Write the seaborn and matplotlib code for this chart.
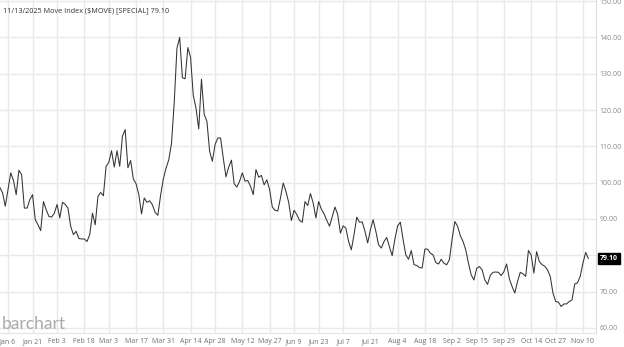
import numpy as np
import pandas as pd
import matplotlib
matplotlib.use("Agg")
import matplotlib.pyplot as plt
import matplotlib.transforms as mtransforms
import seaborn as sns

# ---------------- data ----------------
holidays = ["2025-01-01", "2025-01-09", "2025-01-20", "2025-02-17", "2025-04-18",
            "2025-05-26", "2025-06-19", "2025-07-04", "2025-09-01", "2025-10-13",
            "2025-11-11"]
start_date = "2024-12-31"
end_date = "2025-11-13"

move_jan_feb = [98.7, 97.2, 93.5, 98.1, 102.7, 100.6, 96.7, 103.4, 102.2, 93.0,
                93.0, 95.3, 96.7, 89.8, 88.4, 86.8, 94.8, 92.6, 90.7, 90.5,
                91.6, 94.0, 90.3, 94.6, 94.0, 93.0, 88.0, 85.7, 86.6, 84.6,
                84.5, 84.5, 83.8, 85.7, 91.6, 88.4, 96.2, 97.3, 96.4]
move_mar = [104.5, 105.6, 108.8, 104.3, 108.8, 104.5, 112.8, 114.6, 104.1, 106.1,
            101.0, 99.7, 96.7, 91.4, 95.8, 94.6, 95.0, 93.9, 91.8, 91.0]
move_apr_spike = [96.5, 101.0, 104.0, 106.3, 110.8, 122.0, 137.0, 140.0]
move_apr_jun = [128.9, 128.6, 137.2, 134.5, 124.0, 120.5, 114.8, 128.5, 118.8, 116.9,
                108.6, 105.9, 110.5, 112.3, 112.3, 106.8, 101.6, 104.3, 106.2, 99.7,
                98.8, 100.4, 102.7, 100.4, 100.6, 99.0, 96.7, 103.6, 101.5, 102.0,
                99.4, 100.8, 98.1, 93.3, 92.4, 92.2, 95.8, 99.9, 97.6, 94.6,
                89.6, 92.4, 91.2, 89.6, 89.1, 94.8, 93.7, 97.0]
move_jun_aug = [94.4, 90.3, 94.8, 92.7, 91.4, 89.6, 88.0, 90.7, 93.3, 91.2,
                86.1, 88.1, 87.5, 83.8, 81.5, 85.7, 90.5, 89.1, 89.2, 86.6,
                83.4, 87.0, 89.8, 86.6, 82.9, 82.0, 83.8, 84.9, 82.3, 79.9]
move_aug_nov = [84.5, 88.1, 89.1, 84.3, 80.1, 78.9, 81.3, 77.4, 77.2, 76.6,
                76.5, 81.7, 81.7, 80.6, 80.1, 78.0, 77.6, 78.9, 77.8, 77.4,
                78.8, 84.5, 89.3, 88.0, 85.4, 83.8, 81.5, 77.8, 74.6, 73.2,
                76.4, 76.9, 76.0, 73.2, 72.0, 74.5, 75.3, 75.4, 75.3, 74.4,
                75.5, 77.6, 73.5, 71.4, 69.6, 72.8, 75.3, 74.9, 74.2, 81.3,
                80.1, 75.1, 81.0, 78.3, 77.4, 77.0, 76.0, 74.2, 69.6, 67.3,
                67.1, 65.9, 66.6, 66.6, 67.3, 67.7, 72.1, 72.4, 74.2, 77.8,
                80.8, 79.1]

tick_dates = ["2025-01-06", "2025-01-21", "2025-02-03", "2025-02-18", "2025-03-03",
              "2025-03-17", "2025-03-31", "2025-04-14", "2025-04-28", "2025-05-12",
              "2025-05-27", "2025-06-09", "2025-06-23", "2025-07-07", "2025-07-21",
              "2025-08-04", "2025-08-18", "2025-09-02", "2025-09-15", "2025-09-29",
              "2025-10-14", "2025-10-27", "2025-11-10"]
y_ticks = [60, 70, 80, 90, 100, 110, 120, 130, 140, 150]
hidden_y_label = 80   # covered by the last-value badge in the reference
title_text = "11/13/2025 Move Index ($MOVE) [SPECIAL] 79.10"
last_label = "79.10"

# ---------------- build frame ----------------
values = move_jan_feb + move_mar + move_apr_spike + move_apr_jun + move_jun_aug + move_aug_nov
dates = pd.bdate_range(start_date, end_date, freq="C", holidays=holidays)
origin = dates.get_loc(pd.Timestamp(tick_dates[0]))
df = pd.DataFrame({"date": dates, "move": values})
df["pos"] = np.arange(len(df)) - origin
tick_pos = [dates.get_loc(pd.Timestamp(d)) - origin for d in tick_dates]
tick_lab = [pd.Timestamp(d).strftime("%b ") + str(pd.Timestamp(d).day) for d in tick_dates]

# ---------------- style ----------------
sns.set_theme(style="white")
plt.rcParams["font.family"] = ["Open Sans", "DejaVu Sans"]

W, H = 624, 347
fig = plt.figure(figsize=(W / 100, H / 100), dpi=100)
ax = fig.add_axes([0, 1 - 333 / H, 596 / W, 333 / H])

grid_c = "#e9e9e9"
for yv in y_ticks:
    ax.axhline(yv, color=grid_c, lw=1.0, zorder=0)
for xp in tick_pos:
    ax.axvline(xp, color=grid_c, lw=1.0, zorder=0)

sns.lineplot(data=df, x="pos", y="move", ax=ax, color="#333333", linewidth=0.75,
             zorder=3, legend=False)

ax.set_xlim(-2.94, 215.8)
ax.set_ylim(58.6, 150.3)

ax.set_xticks(tick_pos)
ax.set_xticklabels(tick_lab)
ax.yaxis.tick_right()
ax.set_yticks(y_ticks)
ax.set_yticklabels(["" if v == hidden_y_label else f"{v:.2f}" for v in y_ticks])
ax.tick_params(axis="both", length=0, labelsize=5, colors="#8a8a8a")
ax.tick_params(axis="x", pad=3.5, labelcolor="#707070")
ax.tick_params(axis="y", pad=2.5)
ax.set_xlabel("")
ax.set_ylabel("")

for side in ["left", "top"]:
    ax.spines[side].set_visible(False)
ax.spines["right"].set_color("#dcdcdc")
ax.spines["right"].set_linewidth(0.8)
ax.spines["bottom"].set_color("#e4e4e4")
ax.spines["bottom"].set_linewidth(0.8)

ax.text(3 / 596, 1 - 11 / 333, title_text, transform=ax.transAxes, fontsize=5.2,
        color="#333333", va="center", ha="left", zorder=5)

ax.text(2 / 596, 1 - 324 / 333, "barchart", transform=ax.transAxes, fontsize=12.5,
        color="#aaaaaa", va="center", ha="left", zorder=5,
        family=["Lato", "DejaVu Sans"])

trans = mtransforms.blended_transform_factory(ax.transAxes, ax.transData)
ax.text(1 + 4 / 596, values[-1], last_label, transform=trans, fontsize=5,
        color="white", fontweight="bold", va="center", ha="left", zorder=6,
        clip_on=False,
        bbox=dict(boxstyle="square,pad=0.35", fc="black", ec="black"))

fig.savefig("out.png", dpi=100)
